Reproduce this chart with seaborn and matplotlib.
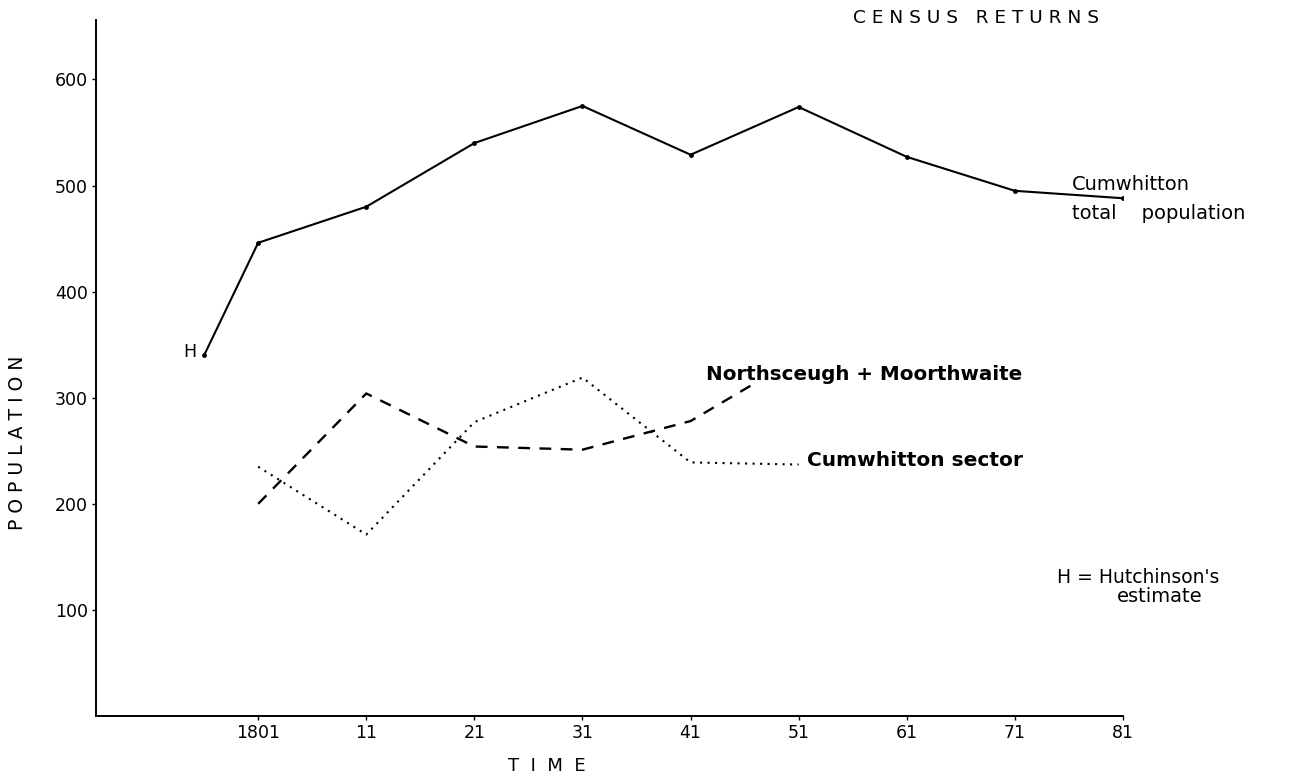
import numpy as np
import pandas as pd
import matplotlib
matplotlib.use("Agg")
import matplotlib.pyplot as plt
import seaborn as sns

# Census years (Hutchinson's estimate placed before 1801)
total_years = [1796, 1801, 1811, 1821, 1831, 1841, 1851, 1861, 1871, 1881]
total_pop = [340, 446, 480, 540, 575, 529, 574, 527, 495, 488]

north_years = [1801, 1811, 1821, 1831, 1841, 1847]
north_pop = [200, 304, 254, 251, 278, 314]

sector_years = [1801, 1811, 1821, 1831, 1841, 1851]
sector_pop = [235, 171, 277, 319, 239, 237]

tick_years = [1801, 1811, 1821, 1831, 1841, 1851, 1861, 1871, 1881]
tick_labels = ["1801", "11", "21", "31", "41", "51", "61", "71", "81"]
y_ticks = [100, 200, 300, 400, 500, 600]

sns.set_style("ticks")
plt.rcParams["font.family"] = ["DejaVu Sans"]
plt.rcParams["text.color"] = "black"

W, H = 1299, 782
fig = plt.figure(figsize=(W / 100, H / 100), dpi=100)
ax = fig.add_axes([96 / W, 1 - 716 / H, (1123 - 96) / W, (716 - 20) / H])

total_df = pd.DataFrame({"year": total_years, "pop": total_pop})
north_df = pd.DataFrame({"year": north_years, "pop": north_pop})
sector_df = pd.DataFrame({"year": sector_years, "pop": sector_pop})

sns.lineplot(data=total_df, x="year", y="pop", ax=ax, color="black",
             linewidth=1.5, marker="o", markersize=3.5, markeredgewidth=0)
sns.lineplot(data=north_df, x="year", y="pop", ax=ax, color="black",
             linewidth=1.7, linestyle=(0, (5, 4)))
sns.lineplot(data=sector_df, x="year", y="pop", ax=ax, color="black",
             linewidth=1.5, linestyle=(0, (1, 2.6)))

ax.set_xlim(1786, 1881)
ax.set_ylim(0, 656)
ax.set_xticks(tick_years)
ax.set_xticklabels(tick_labels)
ax.set_yticks(y_ticks)
ax.tick_params(axis="both", labelsize=12.5, length=3, width=1, pad=3,
               colors="black")
ax.set_xlabel("")
ax.set_ylabel("")
for side in ["top", "right"]:
    ax.spines[side].set_visible(False)
for side in ["left", "bottom"]:
    ax.spines[side].set_linewidth(1.4)
    ax.spines[side].set_color("black")

# annotations
ax.text(1795.3, 343, "H", fontsize=12.5, ha="right", va="center")
ax.text(1876.3, 501, "Cumwhitton", fontsize=14, ha="left", va="center")
ax.text(1876.3, 474, "total    population", fontsize=14, ha="left",
        va="center")
ax.text(1842.4, 322, "Northsceugh + Moorthwaite", fontsize=14.3,
        fontweight="bold", ha="left", va="center")
ax.text(1851.8, 241, "Cumwhitton sector", fontsize=14.5, fontweight="bold",
        ha="left", va="center")
ax.text(1874.9, 131, "H = Hutchinson's", fontsize=13.5, ha="left",
        va="center")
ax.text(1880.4, 113, "estimate", fontsize=14, ha="left", va="center")

fig.text(853 / W, 1 - 18 / H, "C E N S U S   R E T U R N S", fontsize=13.3,
         ha="left", va="center")
fig.text(18 / W, 1 - 443 / H, "P O P U L A T I O N", fontsize=13.5,
         rotation=90, ha="center", va="center")
fig.text(547 / W, 1 - 766 / H, "T  I  M  E", fontsize=13, ha="center",
         va="center")

fig.savefig("out.png", dpi=100)
